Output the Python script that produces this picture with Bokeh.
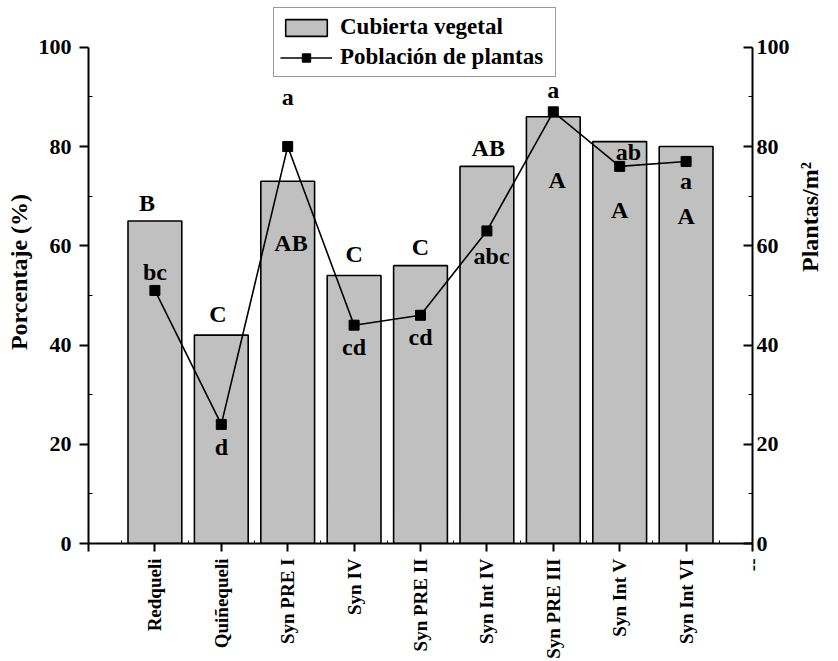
import math
from bokeh.plotting import figure
from bokeh.models import (Range1d, LinearAxis, FixedTicker, Legend, LegendItem,
                          ColumnDataSource)
from bokeh.core.properties import value
from bokeh.embed import file_html
from bokeh.resources import INLINE

# ---------------- data ----------------
categories = ["Redqueli", "Quiñequeli", "Syn PRE I", "Syn IV", "Syn PRE II",
              "Syn Int IV", "Syn PRE III", "Syn Int V", "Syn Int VI"]
cubierta = [65, 42, 73, 54, 56, 76, 86, 81, 80]          # % (left axis)
poblacion = [51, 24, 80, 44, 46, 63, 87, 76, 77]          # plants/m2 (right axis)

# significance letters (bars: upper case, line: lower case)
bar_letters = ["B", "C", "AB", "C", "C", "AB", "A", "A", "A"]
bar_letter_y = [68.6, 46.3, 60.6, 58.4, 59.8, 79.7, 73.2, 67.3, 66.1]
bar_letter_dx = [-0.12, -0.05, 0.05, 0.0, 0.0, 0.02, 0.06, 0.0, 0.0]
pop_letters = ["bc", "d", "a", "cd", "cd", "abc", "a", "ab", "a"]
pop_letter_y = [54.8, 19.4, 90.0, 39.6, 41.6, 57.9, 91.4, 79.0, 73.0]
pop_letter_dx = [0.0, 0.0, 0.0, 0.0, 0.0, 0.07, 0.0, 0.13, 0.0]

y_ticks = [0, 20, 40, 60, 80, 100]
y_minor = [10, 30, 50, 70, 90]

FONT = "Liberation Serif"

x = [i + 1 for i in range(len(categories))]

# frame spans the full height above the x axis; axes are bounded to 0..100
Y_TOP = 100 * 545 / 498

p = figure(width=838, height=661, output_backend="svg", toolbar_location=None,
           x_range=Range1d(0, 10), y_range=Range1d(0, Y_TOP),
           min_border_left=88, min_border_right=85,
           min_border_top=0, min_border_bottom=116)
p.extra_y_ranges = {"right": Range1d(0, Y_TOP)}
p.grid.visible = False
p.outline_line_color = None
p.background_fill_color = "white"
p.border_fill_color = "white"

bars = p.vbar(x=x, top=cubierta, width=0.81, bottom=0,
              fill_color="#c0c0c0", line_color="black", line_width=1.6)
line_r = p.line(x=x, y=poblacion, line_color="black", line_width=1.6,
                y_range_name="right")
pts = p.scatter(x=x, y=poblacion, marker="square", size=10,
                fill_color="black", line_color="black", y_range_name="right")

src_b = ColumnDataSource(dict(x=[a + d for a, d in zip(x, bar_letter_dx)],
                              y=bar_letter_y, t=bar_letters))
p.text(x="x", y="y", text="t", source=src_b, text_font=value(FONT),
       text_font_style="bold", text_font_size="24px", text_align="center",
       text_baseline="middle", text_color="black")
src_p = ColumnDataSource(dict(x=[a + d for a, d in zip(x, pop_letter_dx)],
                              y=pop_letter_y, t=pop_letters))
p.text(x="x", y="y", text="t", source=src_p, text_font=value(FONT),
       text_font_style="bold", text_font_size="24px", text_align="center",
       text_baseline="middle", text_color="black", y_range_name="right")

# ---- axes ----
xax = p.xaxis[0]
xax.ticker = FixedTicker(ticks=list(range(0, 11)),
                         minor_ticks=[i + 0.5 for i in range(10)])
overrides = {0: ""}
for xi, c in zip(x, categories):
    overrides[xi] = c
overrides[10] = "--"
xax.major_label_overrides = overrides
xax.major_label_orientation = math.pi / 2
xax.major_label_text_font = FONT
xax.major_label_text_font_style = "bold"
xax.major_label_text_font_size = "19px"
xax.major_label_text_color = "black"
xax.major_label_standoff = 7
xax.major_tick_out = 8
xax.major_tick_in = 0
xax.minor_tick_in = 3
xax.minor_tick_out = 0
xax.axis_line_width = 2
xax.major_tick_line_width = 2
xax.minor_tick_line_width = 1

yax = p.yaxis[0]
yax.ticker = FixedTicker(ticks=y_ticks, minor_ticks=y_minor)
yax.axis_label = "Porcentaje (%)"
yax.major_tick_out = 9
yax.major_tick_in = 0
yax.minor_tick_in = 4
yax.minor_tick_out = 0
yax.major_label_standoff = 8
yax.axis_label_standoff = 4

rax = LinearAxis(y_range_name="right", axis_label="Plantas/m²")
rax.ticker = FixedTicker(ticks=y_ticks, minor_ticks=y_minor)
rax.major_tick_out = 0
rax.major_tick_in = 9
rax.minor_tick_in = 4
rax.minor_tick_out = 0
rax.major_label_standoff = 4
rax.axis_label_standoff = 17
rax.axis_label_orientation = math.pi / 2
p.add_layout(rax, "right")

for ax in (yax, rax):
    ax.bounds = (0, 100)
    ax.major_label_text_font = FONT
    ax.major_label_text_font_style = "bold"
    ax.major_label_text_font_size = "22px"
    ax.major_label_text_color = "black"
    ax.axis_label_text_font = FONT
    ax.axis_label_text_font_style = "bold"
    ax.axis_label_text_font_size = "24px"
    ax.axis_label_text_color = "black"
    ax.axis_line_width = 2
    ax.major_tick_line_width = 2
    ax.minor_tick_line_width = 1

# ---- legend ----
legend = Legend(items=[LegendItem(label="Cubierta vegetal", renderers=[bars]),
                       LegendItem(label="Población de plantas",
                                  renderers=[line_r, pts])],
                location=(185, 466), orientation="vertical",
                glyph_width=52, glyph_height=21, label_height=23,
                label_width=209,
                label_standoff=8, spacing=4, padding=6, margin=0,
                label_text_font=FONT, label_text_font_style="bold",
                label_text_font_size="23px", label_text_color="black",
                border_line_color="#333333", border_line_width=1,
                background_fill_color="white", background_fill_alpha=1.0)
p.add_layout(legend, "center")

open("out.html", "w").write(file_html(p, INLINE))
